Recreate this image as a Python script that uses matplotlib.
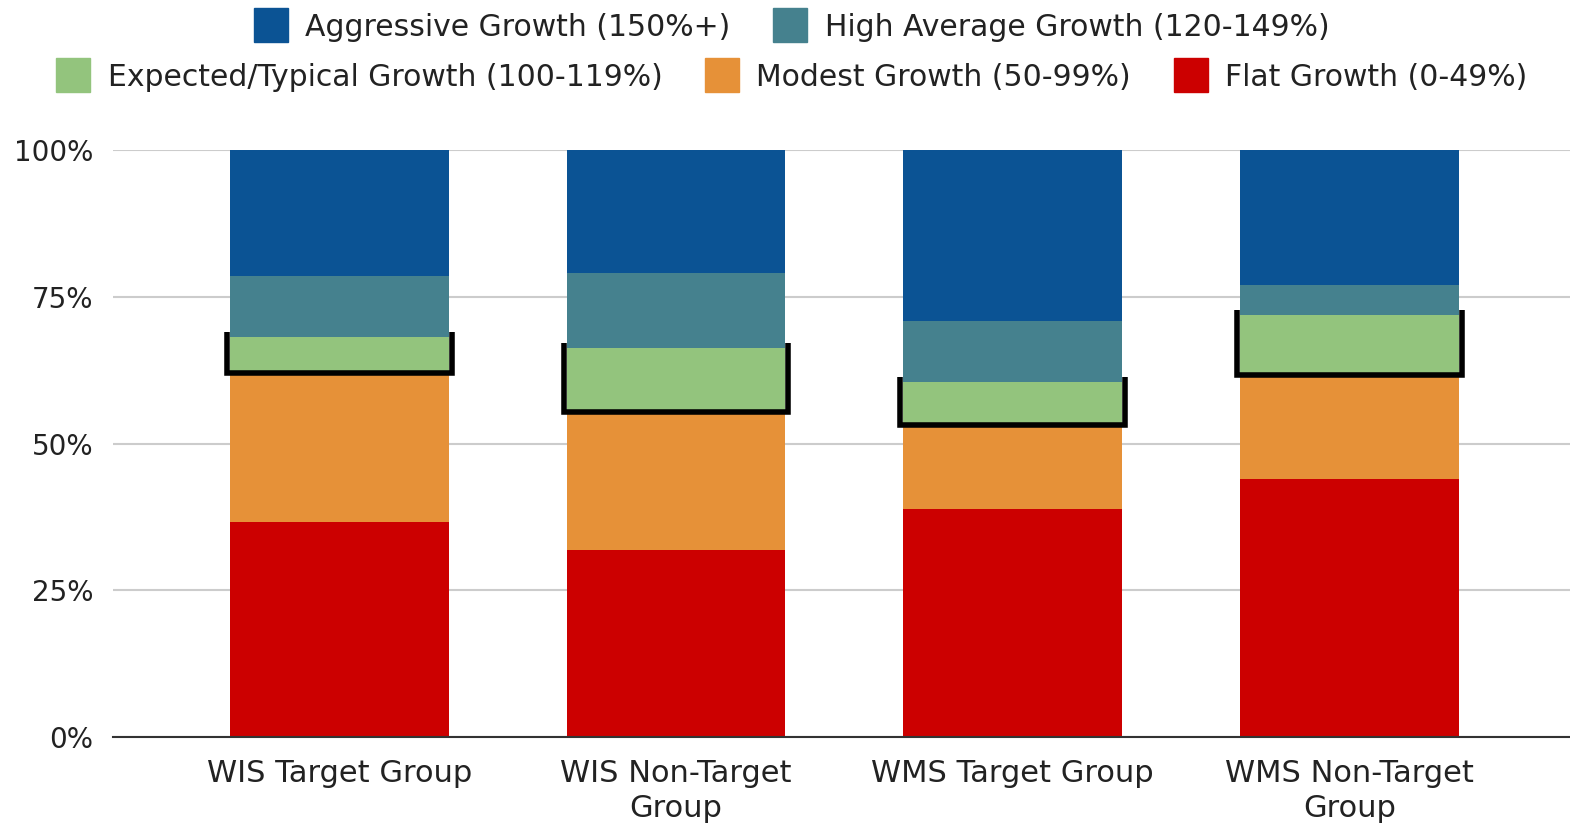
import matplotlib
matplotlib.use('Agg')
import matplotlib.pyplot as plt
from matplotlib.lines import Line2D
import numpy as np

plt.rcParams['font.family'] = ['DejaVu Sans']

groups = ['WIS Target Group', 'WIS Non-Target\nGroup', 'WMS Target Group', 'WMS Non-Target\nGroup']
series = ['Flat Growth (0-49%)', 'Modest Growth (50-99%)', 'Expected/Typical Growth (100-119%)',
          'High Average Growth (120-149%)', 'Aggressive Growth (150%+)']
flat = [36.6, 31.9, 38.8, 44.0]
modest = [25.4, 23.5, 14.4, 17.7]
expected = [6.1, 10.9, 7.3, 10.2]
high_avg = [10.4, 12.7, 10.4, 5.1]
aggressive = [21.5, 21.0, 29.1, 23.0]
colors = ['#cc0000', '#e69138', '#93c47d', '#45818e', '#0b5394']

fig = plt.figure(figsize=(15.7, 8.3), dpi=100)
ax = fig.add_axes([0.072, 0.112, 0.928, 0.707])

x = np.arange(len(groups))
width = 0.65
bottom = np.zeros(len(groups))
for vals, col in zip([flat, modest, expected, high_avg, aggressive], colors):
    ax.bar(x, vals, width, bottom=bottom, color=col, zorder=2)
    bottom += np.array(vals)

# black brackets around the expected-growth segment
lo = np.array(flat) + np.array(modest)
hi = lo + np.array(expected)
off = 0.009
for xi, b, t in zip(x, lo, hi):
    x0, x1 = xi - width / 2 - off, xi + width / 2 + off
    ax.plot([x0, x0, x1, x1], [t + 0.9, b, b, t + 0.9], color='black', lw=4,
            solid_joinstyle='miter', solid_capstyle='butt', zorder=3)

ax.set_xlim(-0.672, 3.655)
ax.set_ylim(0, 100)
ax.set_yticks([0, 25, 50, 75, 100])
ax.set_yticklabels(['0%', '25%', '50%', '75%', '100%'])
ax.set_xticks(x)
ax.set_xticklabels(groups, linespacing=1.25)
ax.tick_params(axis='y', length=0, pad=14, labelsize=20, labelcolor='#222222')
ax.tick_params(axis='x', length=0, pad=16, labelsize=22, labelcolor='#222222')
ax.grid(axis='y', color='#cccccc', lw=1.5, zorder=0)
ax.set_axisbelow(True)
for s in ['top', 'right', 'left']:
    ax.spines[s].set_visible(False)
ax.spines['bottom'].set_color('#333333')
ax.spines['bottom'].set_linewidth(1.5)
ax.spines['bottom'].set_zorder(4)

def handle(c):
    return Line2D([], [], marker='s', ls='', markersize=24, color=c)

fig.legend([handle(colors[4]), handle(colors[3])], [series[4], series[3]],
           loc='center', bbox_to_anchor=(0.504, 0.967), ncol=2, frameon=False,
           fontsize=21.5, handletextpad=0.55, columnspacing=1.4, handlelength=1.2,
           labelcolor='#222222')
fig.legend([handle(colors[2]), handle(colors[1]), handle(colors[0])],
           [series[2], series[1], series[0]],
           loc='center', bbox_to_anchor=(0.504, 0.907), ncol=3, frameon=False,
           fontsize=21.5, handletextpad=0.55, columnspacing=1.4, handlelength=1.2,
           labelcolor='#222222')

fig.savefig('out.png', dpi=100)
